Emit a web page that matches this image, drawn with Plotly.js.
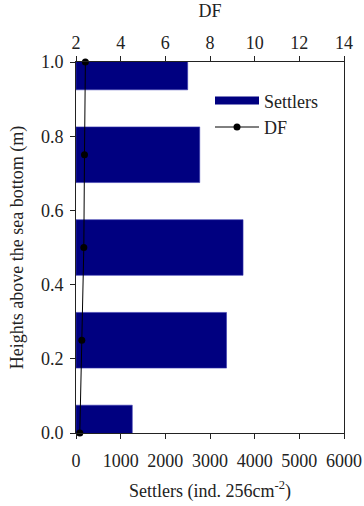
<!DOCTYPE html>
<html><head><meta charset="utf-8">
<script src="https://cdn.plot.ly/plotly-3.0.1.min.js"></script>
<style>html,body{margin:0;padding:0;background:#fff}#c{width:364px;height:506px}</style>
</head><body><div id="c"></div>
<script>
var heights = [0, 0.25, 0.5, 0.75, 1.0];
var settlers = [1260, 3370, 3740, 2770, 2500];
var df = [2.17, 2.26, 2.35, 2.38, 2.42];
var settlersTicks = [0, 1000, 2000, 3000, 4000, 5000, 6000];
var dfTicks = [2, 4, 6, 8, 10, 12, 14];
var yTicks = [0, 0.2, 0.4, 0.6, 0.8, 1.0];

var FAM = 'Liberation Serif';
var fnt = {family: FAM, size: 18, color: '#222'};
var data = [
  {type: 'bar', orientation: 'h', name: 'Settlers', x: settlers, y: heights, width: 0.15,
   xaxis: 'x', yaxis: 'y', showlegend: false,
   marker: {color: '#000080', line: {color: '#3a3ab0', width: 0.6}}},
  {type: 'scatter', mode: 'lines', name: 'Settlers', x: [null], y: [null],
   xaxis: 'x', yaxis: 'y', showlegend: true, hoverinfo: 'skip',
   line: {color: '#000080', width: 8}},
  {type: 'scatter', mode: 'lines+markers', name: 'DF', x: df, y: heights,
   xaxis: 'x2', yaxis: 'y', cliponaxis: false,
   line: {color: '#000', width: 1}, marker: {color: '#000', size: 7}}
];
var layout = {
  width: 364, height: 506,
  margin: {l: 75.5, r: 20, t: 62, b: 73},
  paper_bgcolor: '#fff', plot_bgcolor: '#fff',
  font: fnt,
  showlegend: true,
  legend: {x: 0.5, y: 0.945, xanchor: 'left', yanchor: 'top', bgcolor: 'rgba(0,0,0,0)',
           font: fnt, itemwidth: 44, tracegroupgap: 0},
  bargap: 0,
  xaxis: {range: [0, 6000], tickvals: settlersTicks, ticks: 'outside', ticklen: 5, tickcolor: '#222',
          ticklabelstandoff: 6,
          showline: true, linecolor: '#222', linewidth: 1, mirror: true, showgrid: false, zeroline: false,
          tickfont: fnt,
          title: {text: 'Settlers (ind. 256cm<sup>-2</sup>)', font: fnt, standoff: 14}},
  xaxis2: {range: [2, 14], tickvals: dfTicks, overlaying: 'x', side: 'top', anchor: 'y',
           ticks: 'outside', ticklen: 5, tickcolor: '#222', showline: true, linecolor: '#222',
           showgrid: false, zeroline: false, tickfont: fnt,
           title: {text: 'DF', font: fnt, standoff: 10}},
  yaxis: {range: [0, 1], tickvals: yTicks, tickformat: '.1f', ticks: 'outside', ticklen: 5, tickcolor: '#222',
          ticklabelstandoff: 3,
          showline: true, linecolor: '#222', mirror: true, showgrid: false, zeroline: false, tickfont: fnt,
          title: {text: 'Heights above the sea bottom (m)', font: fnt, standoff: 12}}
};
Plotly.newPlot('c', data, layout, {displayModeBar: false, staticPlot: true});
</script></body></html>
